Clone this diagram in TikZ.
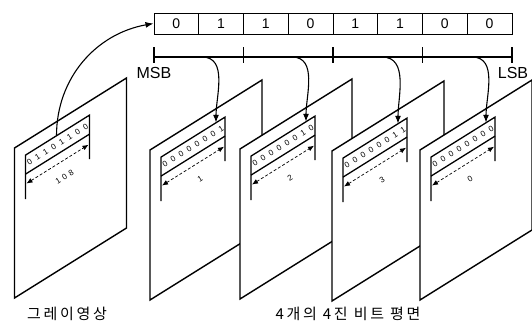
\documentclass[tikz,border=0pt]{standalone}
\usepackage{fontspec}
\setmainfont{Liberation Sans}
\newfontfamily\hangul[LetterSpace=18]{Noto Sans CJK KR}
\newfontfamily\spaced[LetterSpace=40]{Liberation Sans}
\usetikzlibrary{arrows.meta}

\tikzset{
  plane/.style={draw, fill=white, line width=1.4pt, line join=miter},
  strip/.style={line width=1.3pt},
  spanarrow/.style={densely dashed, line width=0.7pt, {Latex[length=6pt,width=5pt]}-{Latex[length=6pt,width=5pt]}},
  bitcell/.style={draw, line width=1pt, minimum width=44.75pt, minimum height=21pt, inner sep=0pt, font=\fontsize{14}{14}\selectfont},
  planebit/.style={rotate=32, inner sep=0pt, font=\fontsize{8}{8}\selectfont},
  feed/.style={line width=1.1pt, -{Latex[length=8pt,width=6pt]}},
  caption/.style={font=\hangul\fontsize{15}{15}\selectfont},
}

% one slanted plane with its 8-bit strip
\newcommand{\bitplane}[5]{%
  \begin{scope}[shift={(#2,#3)}, yslant=0.625]
    \draw[plane] (0,0) -- (112,0) -- (112,150) -- (0,150) -- cycle;
    \draw[strip] (11,58) -- (11,14) -- (75,14) -- (75,58);
    \draw[strip] (11,33) -- (75,33);
    \draw[spanarrow] (12,43) -- (74,43);
    \foreach \b [count=\i from 0] in {#4}
      \node[planebit] (#1-b\i) at ({15+8*\i},23.5) {\b};
    \node[planebit] (#1-val) at (50,60) {\spaced #5};
    \coordinate (#1-top) at (66,14);
    \coordinate (#1-src) at (42,14);
  \end{scope}}

\begin{document}
\begin{tikzpicture}[x=1pt,y=-1pt]
\useasboundingbox (0,0) rectangle (532,332);

% register
\foreach \b [count=\i from 0] in {0,1,1,0,1,1,0,0}
  \node[bitcell] (c\i) at ({176.375+44.75*\i},23.5) {\b};

% bit scale
\coordinate (msb) at (154,57);
\coordinate (lsb) at (512,57);
\draw[line width=1.1pt] (msb) -- (lsb);
\foreach \x in {154,243.5,333,422.5,512}
  \draw[line width=1.1pt] (\x,47) -- (\x,63);
\node[font=\fontsize{16}{16}\selectfont] (msblabel) at (154,73) {MSB};
\node[font=\fontsize{16}{16}\selectfont] (lsblabel) at (513,73) {LSB};
\coordinate (s1) at (202,57);
\coordinate (s2) at (292,57);
\coordinate (s3) at (382,57);
\coordinate (s4) at (472,57);

% planes
\bitplane{gray}{14.5}{148}{0,1,1,0,1,1,0,0}{108}
\bitplane{p1}{150}{150}{0,0,0,0,0,0,0,1}{1}
\bitplane{p2}{240}{149}{0,0,0,0,0,0,1,0}{2}
\bitplane{p3}{332}{151}{0,0,0,0,0,0,1,1}{3}
\bitplane{p4}{420}{150}{0,0,0,0,0,0,0,0}{0}

% arrows
\draw[feed] (gray-src) to[out=90,in=190] (c0.west);
\draw[feed] (s1) to[out=0,in=90] (p1-top);
\draw[feed] (s2) to[out=0,in=90] (p2-top);
\draw[feed] (s3) to[out=0,in=90] (p3-top);
\draw[feed] (s4) to[out=0,in=90] (p4-top);

% captions
\node[caption] (graycap) at (67,314) {그레이영상};
\node[caption] (planecap) at (348,314) {4개의 4진 비트 평면};
\end{tikzpicture}
\end{document}
